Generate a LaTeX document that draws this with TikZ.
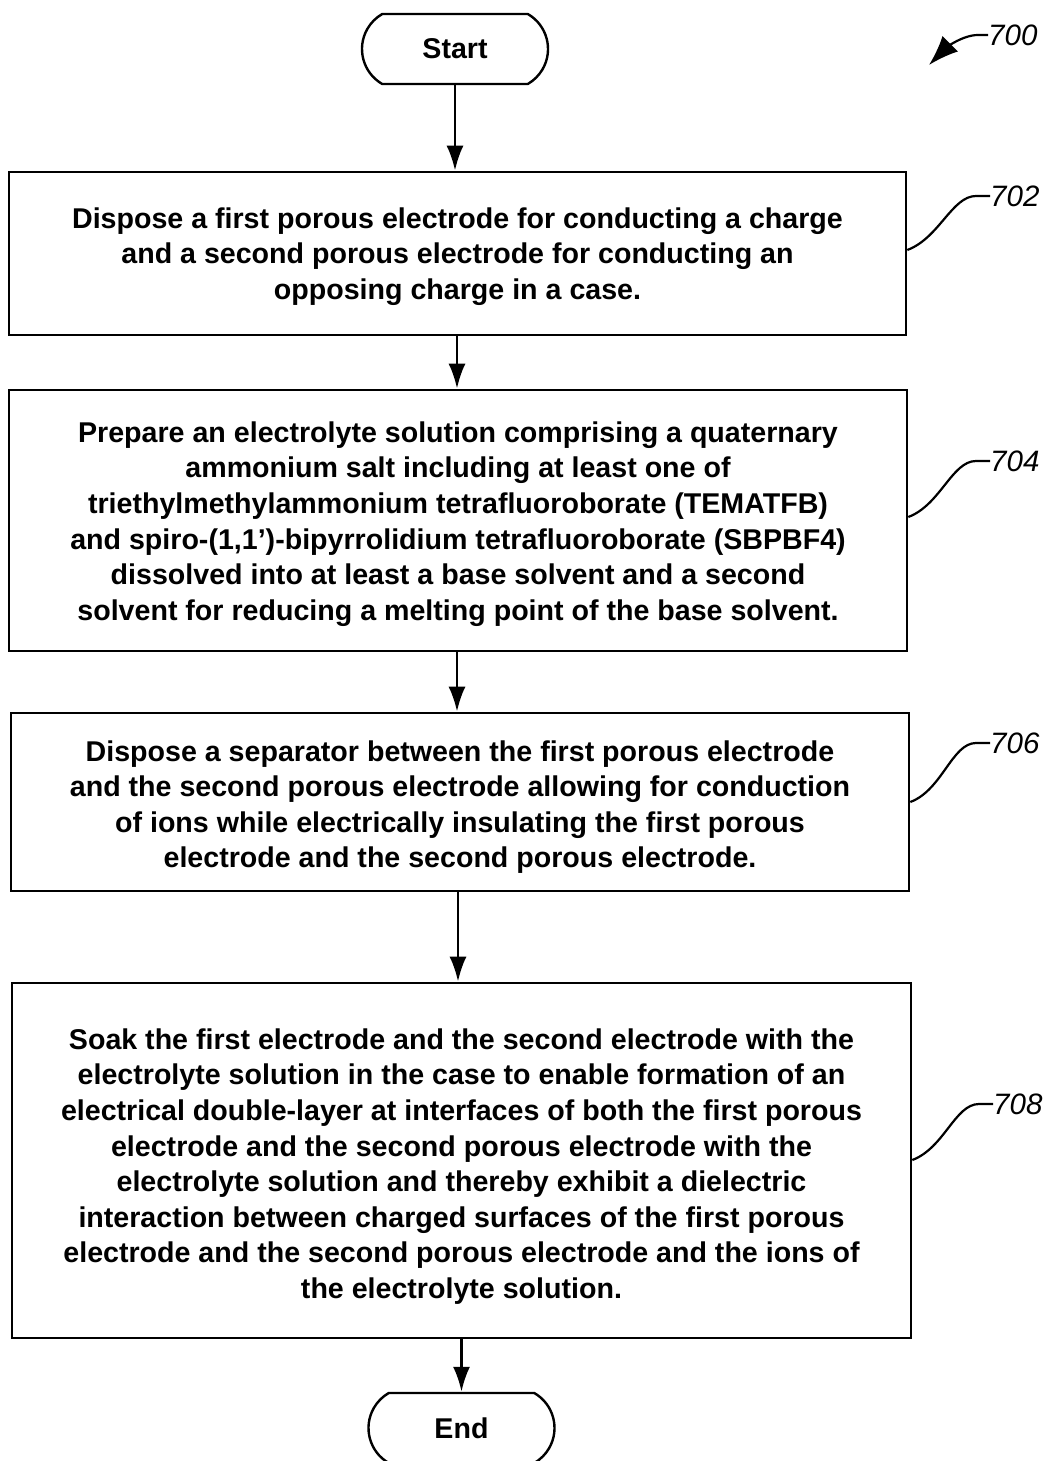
\documentclass[tikz,border=0pt]{standalone}
\usepackage{fontspec}
\setmainfont{Liberation Sans}
\usetikzlibrary{shapes.misc,arrows.meta,calc}
\tikzset{
  stepbox/.style={draw, line width=2.6pt, rectangle, inner sep=0pt},
  steptext/.style={align=center, inner sep=0pt,
     font=\fontsize{28.6}{35.6}\selectfont\bfseries},
  term/.style={draw, line width=2.4pt, rounded rectangle, rounded rectangle arc length=120,
     minimum width=186pt, minimum height=70pt, inner sep=0pt,
     font=\fontsize{28.6}{30}\selectfont\bfseries},
  flow/.style={line width=2.8pt, -{Latex[length=25pt,width=17pt]}},
  leader/.style={line width=2.2pt},
  reflab/.style={font=\fontsize{29.5}{30}\selectfont\itshape, inner sep=0pt, anchor=west}
}
\begin{document}
\begin{tikzpicture}[x=1pt,y=-1pt]
\useasboundingbox (0,0) rectangle (1048,1461);
\node[term] (start) at (455,49) {Start};
\node[stepbox, minimum width=897pt, minimum height=163pt] (b1) at (457.5,253.5) {};
\node[steptext] (b1t) at ($(b1.center)+(0,3)$)
 {Dispose a first porous electrode for conducting a charge\\
  and a second porous electrode for conducting an\\
  opposing charge in a case.};
\node[stepbox, minimum width=898pt, minimum height=261pt] (b2) at (458,520.5) {};
\node[steptext] (b2t) at ($(b2.center)+(0,3.5)$)
 {Prepare an electrolyte solution comprising a quaternary\\
  ammonium salt including at least one of\\
  triethylmethylammonium tetrafluoroborate (TEMATFB)\\
  and spiro-(1,1’)-bipyrrolidium tetrafluoroborate (SBPBF4)\\
  dissolved into at least a base solvent and a second\\
  solvent for reducing a melting point of the base solvent.};
\node[stepbox, minimum width=898pt, minimum height=178pt] (b3) at (460,802) {};
\node[steptext] (b3t) at ($(b3.center)+(0,5)$)
 {Dispose a separator between the first porous electrode\\
  and the second porous electrode allowing for conduction\\
  of ions while electrically insulating the first porous\\
  electrode and the second porous electrode.};
\node[stepbox, minimum width=899pt, minimum height=355pt] (b4) at (461.5,1160.5) {};
\node[steptext] (b4t) at ($(b4.center)+(0,6)$)
 {Soak the first electrode and the second electrode with the\\
  electrolyte solution in the case to enable formation of an\\
  electrical double-layer at interfaces of both the first porous\\
  electrode and the second porous electrode with the\\
  electrolyte solution and thereby exhibit a dielectric\\
  interaction between charged surfaces of the first porous\\
  electrode and the second porous electrode and the ions of\\
  the electrolyte solution.};
\node[term] (end) at (461.5,1428) {End};

\draw[flow] (start.south) -- (start.south |- b1.north);
\draw[flow] (b1.south -| 457,0) -- (457,0 |- b2.north);
\draw[flow] (b2.south -| 457,0) -- (457,0 |- b3.north);
\draw[flow] (b3.south -| 458,0) -- (458,0 |- b4.north);
\draw[flow] (b4.south -| end.north) -- (end.north);

% reference labels
\node[reflab] (l700) at (988,35) {700};
\node[reflab] (l702) at (990,196) {702};
\node[reflab] (l704) at (990,461) {704};
\node[reflab] (l706) at (990,743) {706};
\node[reflab] (l708) at (993,1104) {708};
\coordinate (t700) at (929,65);
\coordinate (e702) at (b1.east |- 0,250);
\coordinate (e704) at (b2.east |- 0,517);
\coordinate (e706) at (b3.east |- 0,802);
\coordinate (e708) at (b4.east |- 0,1160);

\draw[leader, -{Latex[length=30pt,width=22pt]}] (l700.west) -- ++(-10,0)
   .. controls +(-16,0) and +(16,-16) .. (t700);
\draw[leader] (e702) .. controls +(32,-12) and +(-24,0) .. ($(l702.west)+(-14,0)$) -- (l702.west);
\draw[leader] (e704) .. controls +(32,-12) and +(-24,0) .. ($(l704.west)+(-14,0)$) -- (l704.west);
\draw[leader] (e706) .. controls +(32,-12) and +(-24,0) .. ($(l706.west)+(-14,0)$) -- (l706.west);
\draw[leader] (e708) .. controls +(32,-12) and +(-24,0) .. ($(l708.west)+(-14,0)$) -- (l708.west);
\end{tikzpicture}
\end{document}
